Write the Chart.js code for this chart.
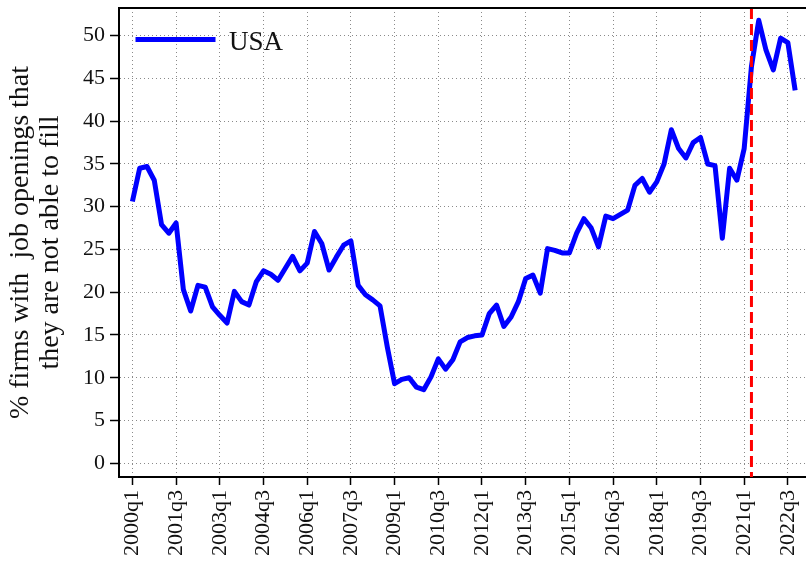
<!DOCTYPE html>
<html>
<head>
<meta charset="utf-8">
<script src="https://cdn.jsdelivr.net/npm/chart.js@4.4.1/dist/chart.umd.min.js"></script>
<style>
  html, body { margin: 0; padding: 0; background: #fff; }
  #wrap { width: 806px; height: 565px; }
</style>
</head>
<body>
<div id="wrap"><canvas id="c" width="806" height="565"></canvas></div>
<script>
// ---- data ----
const years = [2000,2001,2002,2003,2004,2005,2006,2007,2008,2009,2010,2011,
               2012,2013,2014,2015,2016,2017,2018,2019,2020,2021,2022];
const categories = [];
years.forEach(y => { for (let q = 1; q <= 4; q++) categories.push(y + 'q' + q); });

const usaValues = [
  30.6, 34.5, 34.7, 33.1, 27.9, 26.9, 28.1, 20.3, 17.8, 20.8,
  20.6, 18.3, 17.3, 16.4, 20.1, 18.9, 18.5, 21.2, 22.5, 22.1,
  21.4, 22.8, 24.2, 22.5, 23.4, 27.1, 25.7, 22.6, 24.1, 25.5,
  26.0, 20.8, 19.7, 19.1, 18.4, 13.6, 9.3, 9.8, 10.0, 8.9,
  8.6, 10.1, 12.2, 11.0, 12.1, 14.2, 14.7, 14.9, 15.0, 17.5,
  18.5, 16.0, 17.1, 18.9, 21.6, 22.0, 19.9, 25.1, 24.9, 24.6,
  24.6, 26.9, 28.6, 27.5, 25.3, 28.9, 28.6, 29.1, 29.6, 32.5,
  33.3, 31.7, 32.9, 35.0, 39.0, 36.8, 35.7, 37.5, 38.1, 35.0,
  34.8, 26.3, 34.5, 33.1, 36.8, 46.4, 51.8, 48.3, 46.0, 49.7,
  49.2, 43.6
];
const seriesLabel = 'USA';
const xTickLabels = ['2000q1','2001q3','2003q1','2004q3','2006q1','2007q3','2009q1','2010q3',
                     '2012q1','2013q3','2015q1','2016q3','2018q1','2019q3','2021q1','2022q3'];
const yTickValues = [0,5,10,15,20,25,30,35,40,45,50];
const markerCategory = '2021q2';
const yTitle = ['% firms with  job openings that', 'they are not able to fill'];

// ---- build ----
const points = usaValues.map((v, i) => ({ x: i, y: v }));
const xTickIdx = xTickLabels.map(l => categories.indexOf(l));
const markerIdx = categories.indexOf(markerCategory);
const FONT = "'Liberation Serif', 'DejaVu Serif', serif";

function zeroPad(s) {
  s.paddingTop = 0; s.paddingBottom = 0; s.paddingLeft = 0; s.paddingRight = 0;
}

const framePlugin = {
  id: 'frame',
  afterDatasetsDraw(chart) {
    const { ctx, chartArea: a, scales: { x } } = chart;
    const px = x.getPixelForValue(markerIdx);
    ctx.save();
    ctx.beginPath();
    ctx.rect(a.left, a.top, a.right - a.left, a.bottom - a.top);
    ctx.clip();
    ctx.strokeStyle = '#ff0000';
    ctx.lineWidth = 3;
    ctx.setLineDash([11, 5]);
    ctx.beginPath();
    ctx.moveTo(px, a.top);
    ctx.lineTo(px, a.bottom);
    ctx.stroke();
    ctx.restore();
  },
  afterDraw(chart) {
    const { ctx, chartArea: a } = chart;
    ctx.save();
    ctx.strokeStyle = '#000';
    ctx.lineWidth = 2;
    ctx.beginPath();
    ctx.moveTo(a.left - 1, a.top);
    ctx.lineTo(a.right, a.top);
    ctx.stroke();
    const ds = chart.data.datasets[0];
    const ly = a.top + 31.5;
    ctx.strokeStyle = ds.borderColor;
    ctx.lineWidth = 5;
    ctx.lineCap = 'butt';
    ctx.beginPath();
    ctx.moveTo(a.left + 16.5, ly);
    ctx.lineTo(a.left + 96.5, ly);
    ctx.stroke();
    ctx.fillStyle = '#111';
    ctx.font = '27px ' + FONT;
    ctx.textBaseline = 'alphabetic';
    ctx.textAlign = 'left';
    ctx.fillText(ds.label, a.left + 110, ly + 10);
    ctx.restore();
  }
};

new Chart(document.getElementById('c'), {
  type: 'line',
  data: {
    datasets: [{
      label: seriesLabel,
      data: points,
      borderColor: '#0000ff',
      borderWidth: 5,
      pointRadius: 0,
      tension: 0,
      borderJoinStyle: 'round',
      fill: false
    }]
  },
  options: {
    responsive: false,
    animation: false,
    devicePixelRatio: 1,
    layout: { padding: { top: 8, right: 0, left: 0, bottom: 0 } },
    plugins: { legend: { display: false }, tooltip: { enabled: false } },
    scales: {
      x: {
        type: 'linear',
        min: -1.84,
        max: 92.49,
        afterBuildTicks(s) { s.ticks = xTickIdx.map(v => ({ value: v })); },
        afterFit(s) { s.height = 88; zeroPad(s); },
        ticks: {
          autoSkip: false,
          maxRotation: 90,
          minRotation: 90,
          padding: 5,
          color: '#111',
          font: { family: FONT, size: 22 },
          callback: (v) => categories[v]
        },
        grid: {
          color: '#8a8a8a',
          lineWidth: 1,
          drawTicks: true,
          tickLength: 8,
          tickColor: '#000',
          tickWidth: 1.5
        },
        border: { display: true, color: '#000', width: 2, dash: [1, 3] }
      },
      y: {
        type: 'linear',
        min: -1.61,
        max: 53.24,
        afterBuildTicks(s) { s.ticks = yTickValues.map(v => ({ value: v })); },
        afterFit(s) { s.width = 119; zeroPad(s); },
        ticks: {
          padding: 5,
          color: '#111',
          font: { family: FONT, size: 22 }
        },
        grid: {
          color: '#8a8a8a',
          lineWidth: 1,
          drawTicks: true,
          tickLength: 9,
          tickColor: '#000',
          tickWidth: 1.5
        },
        border: { display: true, color: '#000', width: 2, dash: [1, 3] },
        title: {
          display: true,
          text: yTitle,
          color: '#111',
          font: { family: FONT, size: 28, lineHeight: 1.06 },
          padding: { top: 6, bottom: 0 }
        }
      }
    }
  },
  plugins: [framePlugin]
});
</script>
</body>
</html>
